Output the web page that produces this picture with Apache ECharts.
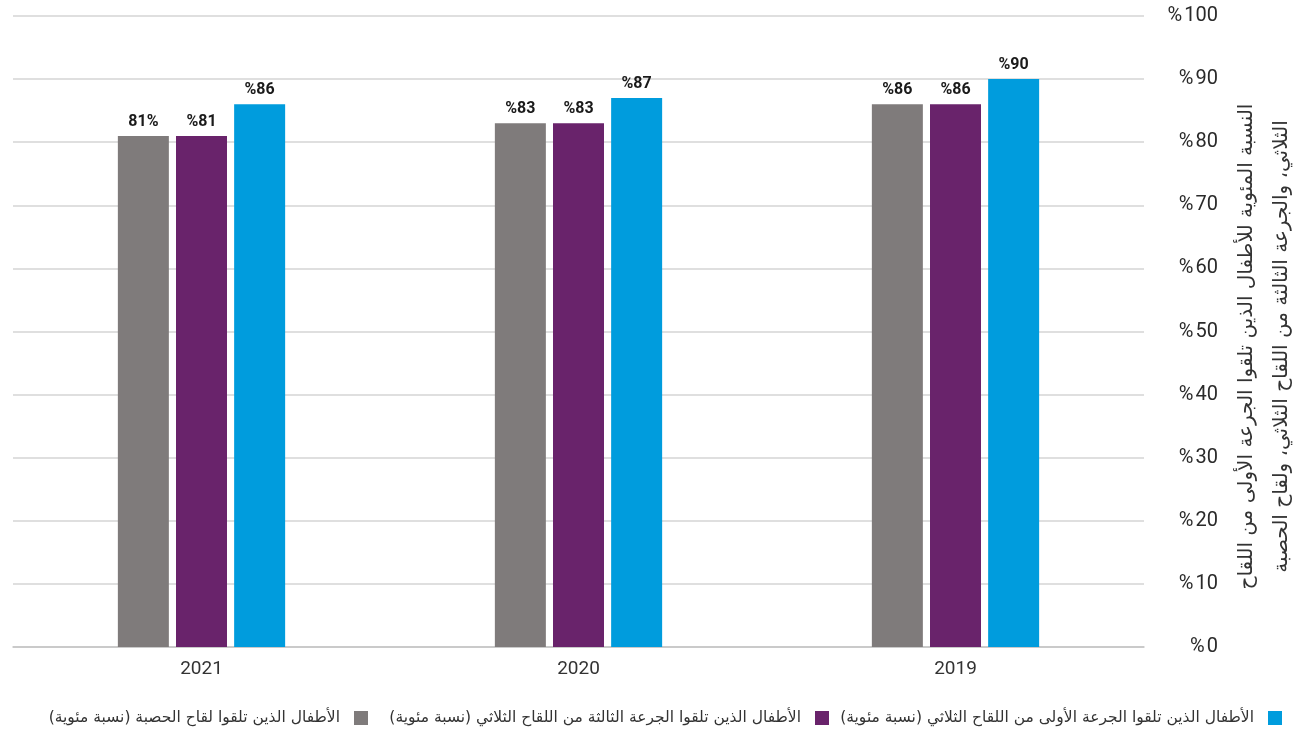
<!DOCTYPE html>
<html lang="ar">
<head>
<meta charset="utf-8">
<title>تغطية اللقاحات للأطفال</title>
<script src="https://cdn.jsdelivr.net/npm/echarts@6/dist/echarts.min.js"></script>
<style>
  html, body { margin: 0; padding: 0; background: #ffffff; }
  #chart { width: 1300px; height: 731px; }
</style>
</head>
<body>
<div id="chart"></div>
<script>
// Years shown on the category axis (drawn right-to-left)
const years = ['2019', '2020', '2021'];

// Series names (legend entries)
const nameMeasles = 'الأطفال الذين تلقوا لقاح الحصبة (نسبة مئوية)';
const nameDtp3 = 'الأطفال الذين تلقوا الجرعة الثالثة من اللقاح الثلاثي (نسبة مئوية)';
const nameDtp1 = 'الأطفال الذين تلقوا الجرعة الأولى من اللقاح الثلاثي (نسبة مئوية)';

// Coverage values, per year in the order of `years`
const measles = [86, 83, 81];
const dtp3 = [86, 83, 81];
const dtp1 = [90, 87, 86];

// Value axis ticks
const yTicks = [0, 10, 20, 30, 40, 50, 60, 70, 80, 90, 100];

const yAxisName = 'النسبة المئوية للأطفال الذين تلقوا الجرعة الأولى من اللقاح\nالثلاثي، والجرعة الثالثة من اللقاح الثلاثي، ولقاح الحصبة';

const colors = { measles: '#7f7b7b', dtp3: '#69236b', dtp1: '#009cdd' };

const numFont = 'Roboto, "DejaVu Sans", sans-serif';
const arFont = '"DejaVu Sans", "Noto Sans", sans-serif';

function barSeries(name, values, color, labelOverrides) {
  return {
    name: name,
    type: 'bar',
    barWidth: 51,
    barGap: '14%',
    itemStyle: { color: color },
    label: {
      show: true,
      position: 'top',
      distance: 6,
      formatter: p => '%' + p.value,
      fontFamily: numFont,
      fontWeight: 'bold',
      fontSize: 16,
      color: '#1a1a1a'
    },
    data: values.map((v, i) => (labelOverrides && labelOverrides[i])
      ? { value: v, label: { formatter: labelOverrides[i] } }
      : v)
  };
}

// One legend entry per block, laid out right-to-left along the bottom
function legendItem(name, right) {
  return {
    data: [name],
    bottom: 0,
    right: right,
    align: 'right',
    icon: 'rect',
    itemWidth: 14,
    itemHeight: 14,
    itemGap: 0,
    textStyle: { fontFamily: arFont, fontSize: 15.5, color: '#333333', padding: [0, 9, 0, 0] }
  };
}

const chart = echarts.init(document.getElementById('chart'), null, { renderer: 'canvas' });

chart.setOption({
  animation: false,
  backgroundColor: '#ffffff',
  grid: { left: 13, right: 156, top: 16, bottom: 84, outerBoundsMode: 'none', containLabel: false },
  legend: [
    legendItem(nameDtp1, 13),
    legendItem(nameDtp3, 466),
    legendItem(nameMeasles, 927)
  ],
  xAxis: {
    type: 'category',
    data: years,
    inverse: true,
    axisLine: { lineStyle: { color: '#c4c4c4', width: 1.5 } },
    axisTick: { show: false },
    axisLabel: { fontFamily: numFont, fontSize: 19, color: '#333333', margin: 13 }
  },
  yAxis: {
    type: 'value',
    position: 'right',
    min: yTicks[0],
    max: yTicks[yTicks.length - 1],
    interval: yTicks[1] - yTicks[0],
    axisLine: { show: false },
    axisTick: { show: false },
    splitLine: { lineStyle: { color: '#d4d4d4', width: 1.5 } },
    axisLabel: {
      align: 'right',
      margin: 74,
      formatter: v => '%\u200A' + v,
      fontFamily: numFont,
      fontSize: 20,
      color: '#2a2a2a'
    },
    name: yAxisName,
    nameLocation: 'middle',
    nameRotate: 90,
    nameGap: 80,
    nameTextStyle: {
      fontFamily: arFont,
      fontSize: 20,
      color: '#333333',
      lineHeight: 35,
      align: 'center',
      padding: [0, 30, 0, 0]
    }
  },
  series: [
    barSeries(nameMeasles, measles, colors.measles, [null, null, '{c}%']),
    barSeries(nameDtp3, dtp3, colors.dtp3),
    barSeries(nameDtp1, dtp1, colors.dtp1)
  ]
});
</script>
</body>
</html>
